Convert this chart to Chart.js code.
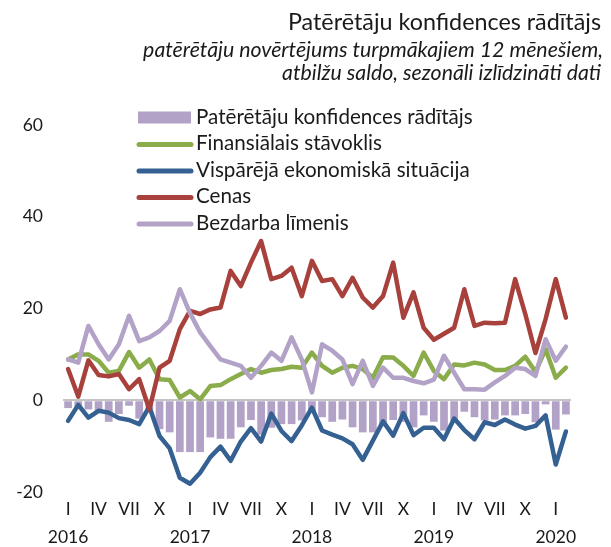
<!DOCTYPE html>
<html>
<head>
<meta charset="utf-8">
<script src="https://cdn.jsdelivr.net/npm/chart.js@4"></script>
<style>
  html, body { margin: 0; padding: 0; background: #fff; }
  #wrap { width: 611px; height: 547px; position: relative; }
</style>
</head>
<body>
<div id="wrap"><canvas id="chart"></canvas></div>
<script>
const years = ['2016', '2017', '2018', '2019', '2020'];
const quarterLabels = ['I', 'IV', 'VII', 'X'];
const monthCount = 50; // I 2016 .. II 2020

const seriesNames = [
  'Patērētāju konfidences rādītājs',
  'Finansiālais stāvoklis',
  'Vispārējā ekonomiskā situācija',
  'Cenas',
  'Bezdarba līmenis',
];

const confidence = [
  -1.7, -1.5, -2.0, -2.5, -4.7, -3.0, -1.2, -4.0, -2.0, -6.3,
  -7.0, -11.3, -11.3, -11.3, -8.1, -8.4, -8.4, -5.9, -4.3, -7.5,
  -6.0, -5.2, -5.2, -4.4, -2.5, -3.7, -4.7, -4.2, -5.9, -7.0,
  -7.0, -5.2, -4.3, -4.7, -5.9, -3.3, -4.7, -6.6, -4.4, -2.5,
  -3.7, -4.4, -4.2, -3.3, -3.3, -3.0, -4.8, -0.9, -6.4, -3.1,
];
const financial = [
  8.9, 10.0, 10.0, 8.6, 6.0, 6.4, 10.5, 7.1, 8.9, 4.6,
  4.4, 0.6, 2.0, 0.2, 3.1, 3.3, 4.6, 5.7, 6.8, 6.0,
  6.6, 6.8, 7.3, 7.1, 10.4, 7.5, 6.0, 7.1, 7.5, 6.8,
  4.9, 9.4, 9.3, 7.5, 5.3, 10.4, 6.4, 4.6, 7.8, 7.6,
  8.2, 7.8, 6.6, 6.6, 7.5, 9.5, 6.2, 11.1, 4.9, 7.1,
];
const economy = [
  -4.5, -1.0, -3.8, -2.3, -2.7, -3.9, -4.3, -5.2, -1.4, -7.8,
  -10.5, -16.9, -18.2, -15.8, -12.4, -10.1, -13.2, -9.0, -6.1, -9.0,
  -2.9, -6.7, -8.9, -5.5, -1.6, -6.6, -7.5, -8.3, -9.6, -13.0,
  -8.8, -4.6, -7.7, -2.8, -7.6, -6.0, -6.0, -8.5, -4.0, -6.5,
  -8.5, -4.8, -5.4, -4.2, -5.3, -6.2, -5.6, -3.3, -14.0, -6.8,
];
const prices = [
  6.8, 0.8, 8.7, 5.5, 5.2, 5.7, 2.4, 4.6, -2.0, 7.1,
  8.6, 15.5, 19.5, 18.8, 19.8, 20.2, 28.2, 24.9, 30.0, 34.7,
  26.4, 27.1, 28.9, 22.7, 30.4, 26.0, 26.4, 22.7, 26.7, 22.4,
  20.2, 22.7, 30.0, 18.0, 23.5, 15.8, 13.2, 14.5, 15.8, 24.2,
  16.2, 16.9, 16.8, 16.9, 26.4, 18.8, 10.3, 17.7, 26.4, 18.0,
];
const unemployment = [
  8.9, 8.2, 16.2, 12.2, 8.9, 12.2, 18.4, 12.9, 13.7, 15.1,
  17.3, 24.2, 19.0, 14.8, 11.8, 8.9, 8.2, 7.5, 4.9, 7.5,
  10.4, 8.6, 13.7, 8.9, 1.7, 12.2, 10.8, 8.9, 3.5, 8.6,
  3.1, 7.1, 4.9, 4.9, 4.2, 3.7, 4.5, 9.7, 6.0, 2.4,
  2.4, 2.3, 3.9, 5.3, 7.1, 6.8, 5.3, 13.3, 8.6, 11.7,
];

const colors = ['#b3a2c7', '#8aac4a', '#356092', '#a8403c', '#b3a2c7'];
const FONT = 'Lato, "Open Sans", sans-serif';
const TEXT = '#1a1a1a';

const months = [];
for (const y of years) {
  for (let m = 0; m < 12; m++) {
    if (months.length < monthCount) months.push(y + '-' + (m + 1));
  }
}

function tickLabel(index) {
  const m = index % 12;
  if (m % 3 !== 0) return '';
  const q = quarterLabels[m / 3];
  if (m === 0) return [q, years[Math.floor(index / 12)]];
  return q;
}

// pick a font size so the text spans roughly the width it has in the original
function fitFont(c, text, style, width) {
  c.font = style + ' 20px ' + FONT;
  const size = (20 * width) / c.measureText(text).width;
  return style + ' ' + size.toFixed(2) + 'px ' + FONT;
}

// title, subtitle and the legend drawn over the plot
const annotations = {
  id: 'annotations',
  afterDraw(chart) {
    const c = chart.ctx;
    c.save();
    c.fillStyle = TEXT;
    c.textAlign = 'right';
    c.textBaseline = 'middle';
    c.font = fitFont(c, 'Patērētāju konfidences rādītājs', 'normal', 313);
    c.fillText('Patērētāju konfidences rādītājs', 601, 22);
    c.font = fitFont(c, 'patērētāju novērtējums turpmākajiem 12 mēnešiem,', 'italic', 460);
    c.fillText('patērētāju novērtējums turpmākajiem 12 mēnešiem,', 603, 50);
    c.fillText('atbilžu saldo, sezonāli izlīdzināti dati', 601, 73);

    c.textAlign = 'left';
    c.font = fitFont(c, seriesNames[0], 'normal', 277);
    seriesNames.forEach((name, k) => {
      const y = 117 + k * 26.5;
      if (k === 0) {
        c.fillStyle = colors[0];
        c.fillRect(138, y - 5.5, 53, 12);
      } else {
        c.strokeStyle = colors[k];
        c.lineWidth = 5;
        c.lineCap = 'round';
        c.beginPath();
        c.moveTo(139, y + 1);
        c.lineTo(191, y + 1);
        c.stroke();
      }
      c.fillStyle = TEXT;
      c.fillText(name, 196, y);
    });
    c.restore();
  },
};

const lineSet = (label, data, color, order) => ({
  type: 'line',
  label,
  data,
  borderColor: color,
  backgroundColor: color,
  borderWidth: 4.5,
  pointRadius: 0,
  tension: 0,
  borderJoinStyle: 'round',
  borderCapStyle: 'round',
  order,
});

new Chart(document.getElementById('chart'), {
  type: 'bar',
  data: {
    labels: months,
    datasets: [
      {
        label: seriesNames[0],
        data: confidence,
        backgroundColor: colors[0],
        categoryPercentage: 1,
        barPercentage: 0.76,
        order: 5,
      },
      lineSet(seriesNames[1], financial, colors[1], 4),
      lineSet(seriesNames[2], economy, colors[2], 3),
      lineSet(seriesNames[3], prices, colors[3], 2),
      lineSet(seriesNames[4], unemployment, colors[4], 1),
    ],
  },
  options: {
    responsive: true,
    maintainAspectRatio: false,
    animation: false,
    layout: { padding: { top: 125, right: 40, left: 0, bottom: 0 } },
    plugins: {
      legend: { display: false },
      tooltip: { enabled: false },
    },
    scales: {
      x: {
        grid: { display: false, drawTicks: false },
        border: { display: false },
        afterFit(scale) {
          scale.height = 55;
        },
        ticks: {
          autoSkip: false,
          maxRotation: 0,
          padding: 4,
          color: TEXT,
          font: { family: FONT, size: 17.5, lineHeight: '27.5px' },
          callback: (value, index) => tickLabel(index),
        },
      },
      y: {
        min: -20,
        max: 60,
        afterFit(scale) {
          scale.width = 63;
        },
        grid: {
          drawTicks: false,
          lineWidth: 2,
          color: (ctx) => (ctx.tick && ctx.tick.value === 0 ? '#c4c4c4' : 'rgba(0,0,0,0)'),
        },
        border: { display: false },
        ticks: {
          stepSize: 20,
          padding: 20,
          color: TEXT,
          font: { family: FONT, size: 17.5 },
        },
      },
    },
  },
  plugins: [annotations],
});
</script>
</body>
</html>
